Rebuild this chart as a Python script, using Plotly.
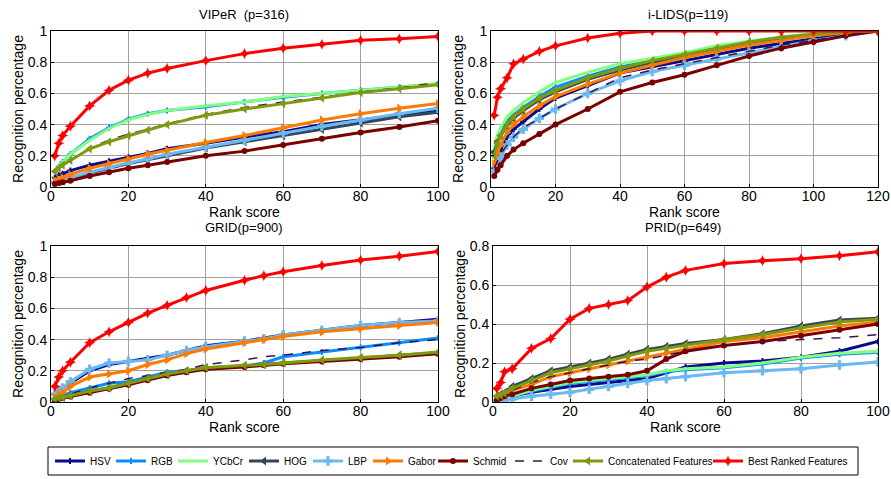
import plotly.graph_objects as go

series_names = ["HSV", "RGB", "YCbCr", "HOG", "LBP", "Gabor", "Schmid", "Cov",
                "Concatenated Features", "Best Ranked Features"]

# ---------------- VIPeR (p=316) ----------------
viper_rank = [1, 2, 3, 5, 10, 15, 20, 25, 30, 40, 50, 60, 70, 80, 90, 100]
viper = {
    "HSV":    [0.06, 0.075, 0.085, 0.105, 0.14, 0.165, 0.19, 0.215, 0.245, 0.28, 0.32, 0.355, 0.40, 0.43, 0.46, 0.49],
    "RGB":    [0.10, 0.13, 0.16, 0.21, 0.31, 0.38, 0.435, 0.47, 0.49, 0.515, 0.545, 0.575, 0.60, 0.62, 0.64, 0.66],
    "YCbCr":  [0.10, 0.13, 0.16, 0.21, 0.30, 0.375, 0.43, 0.465, 0.49, 0.52, 0.545, 0.58, 0.60, 0.62, 0.64, 0.665],
    "HOG":    [0.03, 0.035, 0.04, 0.055, 0.09, 0.12, 0.15, 0.175, 0.20, 0.25, 0.29, 0.33, 0.37, 0.41, 0.45, 0.48],
    "LBP":    [0.03, 0.04, 0.045, 0.06, 0.095, 0.125, 0.155, 0.18, 0.21, 0.255, 0.30, 0.345, 0.39, 0.43, 0.47, 0.505],
    "Gabor":  [0.04, 0.05, 0.06, 0.08, 0.12, 0.15, 0.18, 0.21, 0.235, 0.285, 0.33, 0.38, 0.43, 0.47, 0.505, 0.535],
    "Schmid": [0.02, 0.025, 0.03, 0.04, 0.07, 0.095, 0.12, 0.14, 0.16, 0.20, 0.23, 0.27, 0.31, 0.35, 0.385, 0.425],
    "Cov":    [0.10, 0.12, 0.14, 0.17, 0.25, 0.30, 0.34, 0.37, 0.405, 0.465, 0.51, 0.545, 0.575, 0.61, 0.635, 0.67],
    "Concatenated Features": [0.10, 0.12, 0.14, 0.17, 0.245, 0.29, 0.33, 0.365, 0.40, 0.46, 0.50, 0.535, 0.57, 0.605, 0.63, 0.655],
    "Best Ranked Features":  [0.20, 0.28, 0.33, 0.39, 0.52, 0.62, 0.685, 0.73, 0.76, 0.81, 0.855, 0.89, 0.915, 0.94, 0.95, 0.965],
}

# ---------------- i-LIDS (p=119) ----------------
ilids_rank = [1, 2, 3, 5, 7, 10, 15, 20, 30, 40, 50, 60, 70, 80, 90, 100, 110, 120]
ilids = {
    "HSV":    [0.12, 0.19, 0.24, 0.32, 0.37, 0.42, 0.50, 0.57, 0.65, 0.73, 0.77, 0.81, 0.85, 0.89, 0.92, 0.95, 0.98, 1.0],
    "RGB":    [0.23, 0.30, 0.35, 0.42, 0.46, 0.51, 0.58, 0.64, 0.71, 0.77, 0.81, 0.85, 0.88, 0.92, 0.95, 0.975, 0.99, 1.0],
    "YCbCr":  [0.25, 0.33, 0.38, 0.45, 0.49, 0.54, 0.61, 0.67, 0.735, 0.79, 0.825, 0.86, 0.905, 0.935, 0.96, 0.985, 0.995, 1.0],
    "HOG":    [0.22, 0.29, 0.33, 0.39, 0.44, 0.49, 0.56, 0.61, 0.69, 0.75, 0.80, 0.84, 0.88, 0.92, 0.95, 0.975, 0.99, 1.0],
    "LBP":    [0.10, 0.15, 0.19, 0.27, 0.32, 0.37, 0.44, 0.50, 0.60, 0.68, 0.74, 0.78, 0.82, 0.86, 0.90, 0.94, 0.97, 1.0],
    "Gabor":  [0.15, 0.22, 0.27, 0.35, 0.40, 0.45, 0.52, 0.58, 0.66, 0.73, 0.78, 0.83, 0.87, 0.91, 0.94, 0.97, 0.99, 1.0],
    "Schmid": [0.07, 0.11, 0.14, 0.20, 0.24, 0.28, 0.34, 0.40, 0.50, 0.61, 0.67, 0.72, 0.78, 0.84, 0.89, 0.93, 0.97, 1.0],
    "Cov":    [0.12, 0.17, 0.21, 0.27, 0.32, 0.38, 0.44, 0.50, 0.60, 0.70, 0.75, 0.79, 0.83, 0.87, 0.91, 0.94, 0.97, 1.0],
    "Concatenated Features": [0.20, 0.28, 0.33, 0.40, 0.45, 0.50, 0.57, 0.62, 0.70, 0.76, 0.81, 0.85, 0.89, 0.93, 0.96, 0.98, 0.995, 1.0],
    "Best Ranked Features":  [0.46, 0.575, 0.63, 0.70, 0.79, 0.82, 0.87, 0.905, 0.955, 0.985, 1.0, 1.0, 1.0, 1.0, 1.0, 1.0, 1.0, 1.0],
}

# ---------------- GRID (p=900) ----------------
grid_rank = [1, 2, 3, 5, 10, 15, 20, 25, 30, 35, 40, 50, 55, 60, 70, 80, 90, 100]
grid = {
    "HSV":    [0.05, 0.07, 0.09, 0.12, 0.20, 0.24, 0.26, 0.28, 0.30, 0.33, 0.36, 0.39, 0.41, 0.43, 0.46, 0.49, 0.51, 0.53],
    "RGB":    [0.02, 0.03, 0.04, 0.06, 0.09, 0.12, 0.13, 0.16, 0.19, 0.20, 0.21, 0.23, 0.25, 0.29, 0.32, 0.35, 0.38, 0.41],
    "YCbCr":  [0.015, 0.02, 0.025, 0.035, 0.065, 0.085, 0.115, 0.145, 0.175, 0.195, 0.215, 0.23, 0.235, 0.245, 0.265, 0.28, 0.295, 0.315],
    "HOG":    [0.02, 0.02, 0.03, 0.04, 0.07, 0.09, 0.12, 0.15, 0.175, 0.20, 0.22, 0.23, 0.24, 0.25, 0.265, 0.28, 0.30, 0.315],
    "LBP":    [0.05, 0.07, 0.09, 0.13, 0.21, 0.25, 0.26, 0.27, 0.30, 0.33, 0.355, 0.39, 0.405, 0.43, 0.46, 0.49, 0.51, 0.52],
    "Gabor":  [0.03, 0.05, 0.06, 0.10, 0.16, 0.18, 0.20, 0.24, 0.27, 0.31, 0.34, 0.38, 0.40, 0.42, 0.45, 0.47, 0.49, 0.51],
    "Schmid": [0.01, 0.02, 0.025, 0.035, 0.06, 0.085, 0.11, 0.14, 0.17, 0.19, 0.21, 0.225, 0.235, 0.245, 0.26, 0.275, 0.29, 0.31],
    "Cov":    [0.02, 0.03, 0.04, 0.05, 0.09, 0.12, 0.15, 0.17, 0.19, 0.21, 0.24, 0.27, 0.29, 0.30, 0.33, 0.35, 0.38, 0.40],
    "Concatenated Features": [0.02, 0.025, 0.03, 0.04, 0.07, 0.09, 0.12, 0.15, 0.18, 0.20, 0.22, 0.235, 0.24, 0.25, 0.27, 0.285, 0.30, 0.32],
    "Best Ranked Features":  [0.10, 0.16, 0.20, 0.255, 0.38, 0.45, 0.51, 0.57, 0.62, 0.67, 0.715, 0.78, 0.81, 0.835, 0.875, 0.91, 0.935, 0.965],
}

# ---------------- PRID (p=649) ----------------
prid_rank = [1, 2, 3, 5, 10, 15, 20, 25, 30, 35, 40, 45, 50, 60, 70, 80, 90, 100]
prid = {
    "HSV":    [0.01, 0.015, 0.02, 0.03, 0.05, 0.065, 0.08, 0.09, 0.10, 0.11, 0.12, 0.15, 0.18, 0.20, 0.21, 0.23, 0.26, 0.31],
    "RGB":    [0.01, 0.012, 0.018, 0.028, 0.055, 0.075, 0.095, 0.105, 0.115, 0.125, 0.135, 0.155, 0.165, 0.175, 0.195, 0.225, 0.245, 0.255],
    "YCbCr":  [0.01, 0.015, 0.02, 0.03, 0.06, 0.08, 0.10, 0.11, 0.12, 0.13, 0.14, 0.16, 0.17, 0.18, 0.20, 0.23, 0.25, 0.26],
    "HOG":    [0.03, 0.04, 0.05, 0.08, 0.12, 0.16, 0.18, 0.20, 0.22, 0.245, 0.27, 0.285, 0.30, 0.32, 0.35, 0.39, 0.42, 0.43],
    "LBP":    [0.0, 0.005, 0.01, 0.015, 0.03, 0.04, 0.05, 0.065, 0.08, 0.095, 0.11, 0.12, 0.13, 0.15, 0.16, 0.17, 0.19, 0.205],
    "Gabor":  [0.02, 0.03, 0.04, 0.06, 0.09, 0.13, 0.15, 0.17, 0.19, 0.21, 0.23, 0.25, 0.27, 0.31, 0.33, 0.36, 0.39, 0.41],
    "Schmid": [0.01, 0.02, 0.03, 0.04, 0.07, 0.09, 0.11, 0.12, 0.13, 0.14, 0.16, 0.22, 0.26, 0.29, 0.31, 0.34, 0.37, 0.40],
    "Cov":    [0.02, 0.03, 0.04, 0.06, 0.10, 0.13, 0.15, 0.17, 0.19, 0.21, 0.22, 0.24, 0.26, 0.29, 0.31, 0.32, 0.33, 0.345],
    "Concatenated Features": [0.03, 0.035, 0.045, 0.07, 0.11, 0.15, 0.17, 0.19, 0.21, 0.235, 0.26, 0.275, 0.29, 0.32, 0.345, 0.38, 0.41, 0.425],
    "Best Ranked Features":  [0.07, 0.10, 0.155, 0.17, 0.275, 0.325, 0.425, 0.48, 0.50, 0.52, 0.59, 0.64, 0.675, 0.71, 0.725, 0.735, 0.75, 0.77],
}

panel_titles = ["VIPeR  (p=316)", "i-LIDS(p=119)", "GRID(p=900)", "PRID(p=649)"]
y_ticks_1 = [0, 0.2, 0.4, 0.6, 0.8, 1]
y_ticks_08 = [0, 0.2, 0.4, 0.6, 0.8]
x_ticks_100 = [0, 20, 40, 60, 80, 100]
x_ticks_120 = [0, 20, 40, 60, 80, 100, 120]

styles = {
    "HSV":    dict(color="#0a0a8c", symbol="cross", size=5, dash="solid"),
    "RGB":    dict(color="#0a8cff", symbol="cross", size=5, dash="solid"),
    "YCbCr":  dict(color="#80ff80", symbol="circle", size=3, dash="solid"),
    "HOG":    dict(color="#34475a", symbol="triangle-left", size=8, dash="solid"),
    "LBP":    dict(color="#6cb8f0", symbol="cross", size=8, dash="solid"),
    "Gabor":  dict(color="#ff7a00", symbol="triangle-right", size=8, dash="solid"),
    "Schmid": dict(color="#7a0000", symbol="circle", size=6, dash="solid"),
    "Cov":    dict(color="#3a1250", symbol=None, size=0, dash="dash"),
    "Concatenated Features": dict(color="#7f9a10", symbol="triangle-left", size=8, dash="solid"),
    "Best Ranked Features":  dict(color="#ff0000", symbol="star-diamond", size=8, dash="solid"),
}

# legend entry left edges (px) inside the shared legend box
legend_x_px = [50, 111, 173, 244, 308, 368, 433, 510, 568, 708]

FONT = "Liberation Sans, Arial, sans-serif"
fig = go.Figure()

panels = [(viper_rank, viper, "x", "y"), (ilids_rank, ilids, "x2", "y2"),
          (grid_rank, grid, "x3", "y3"), (prid_rank, prid, "x4", "y4")]

legend_ids = ["legend"] + ["legend%d" % (i + 1) for i in range(1, len(series_names))]

for pi, (ranks, data, xa, ya) in enumerate(panels):
    for si, name in enumerate(series_names):
        st = styles[name]
        mode = "lines" if st["symbol"] is None else "lines+markers"
        tr = dict(x=ranks, y=data[name], mode=mode, name=name, xaxis=xa, yaxis=ya,
                  legendgroup=name, showlegend=(pi == 0), legend=legend_ids[si],
                  line=dict(color=st["color"], width=3 if name != "Cov" else 1.5, dash=st["dash"]))
        if st["symbol"] is not None:
            tr["marker"] = dict(symbol=st["symbol"], size=st["size"], color=st["color"],
                                line=dict(width=0))
        fig.add_trace(go.Scatter(**tr))

W, H = 891, 479
def fx(px): return px / W
def fy(py): return 1 - py / H

axis_common = dict(showline=True, mirror=True, linecolor="black", linewidth=1,
                   showgrid=True, gridcolor="#a0a0a0", gridwidth=1, zeroline=False,
                   ticks="inside", ticklen=3, tickcolor="black", automargin=False,
                   tickfont=dict(family=FONT, size=14, color="black"))

def xaxis(dom, anchor, rmax, ticks):
    return dict(axis_common, domain=[fx(dom[0]), fx(dom[1])], anchor=anchor, range=[0, rmax],
                tickvals=ticks, ticktext=[str(t) for t in ticks], ticklabelstandoff=-4,
                title=dict(text="Rank score", font=dict(family=FONT, size=14, color="black"), standoff=0))

def yaxis(dom, anchor, rmax, ticks):
    return dict(axis_common, domain=[fy(dom[1]), fy(dom[0])], anchor=anchor, range=[0, rmax],
                tickvals=ticks, ticktext=[("%g" % t) for t in ticks],
                title=dict(text="Recognition percentage", font=dict(family=FONT, size=14, color="black"), standoff=0))

layout_kwargs = dict(
    width=W, height=H, margin=dict(l=0, r=0, t=0, b=0, autoexpand=False),
    paper_bgcolor="white", plot_bgcolor="white",
    xaxis=xaxis((51, 438), "y", 100, x_ticks_100),
    yaxis=yaxis((31, 187), "x", 1, y_ticks_1),
    xaxis2=xaxis((491, 878), "y2", 120, x_ticks_120),
    yaxis2=yaxis((31, 187), "x2", 1, y_ticks_1),
    xaxis3=xaxis((51, 438), "y3", 100, x_ticks_100),
    yaxis3=yaxis((246, 402), "x3", 1, y_ticks_1),
    xaxis4=xaxis((493, 878), "y4", 100, x_ticks_100),
    yaxis4=yaxis((246, 402), "x4", 0.8, y_ticks_08),
    showlegend=True,
)
for lid, lx in zip(legend_ids, legend_x_px):
    layout_kwargs[lid] = dict(orientation="h", x=fx(lx), y=fy(461), xanchor="left", yanchor="middle",
                              bgcolor="rgba(0,0,0,0)", borderwidth=0,
                              font=dict(family=FONT, size=10, color="black"),
                              itemwidth=30, itemclick=False, itemdoubleclick=False)
fig.update_layout(**layout_kwargs)

# shared legend frame
fig.add_shape(type="rect", xref="paper", yref="paper", x0=fx(48), x1=fx(858), y0=fy(475), y1=fy(447),
              line=dict(color="black", width=1), fillcolor="rgba(0,0,0,0)", layer="below")

title_pos = [(244, 15), (688, 15), (244, 227), (683, 227)]
for t, (cx, cy) in zip(panel_titles, title_pos):
    fig.add_annotation(text=t, x=fx(cx), y=fy(cy), xref="paper", yref="paper",
                       showarrow=False, xanchor="center", yanchor="middle",
                       font=dict(family=FONT, size=13, color="black"))

fig.write_html("out.html", config={"displayModeBar": False},
               post_script="document.body.style.margin='0px';")
